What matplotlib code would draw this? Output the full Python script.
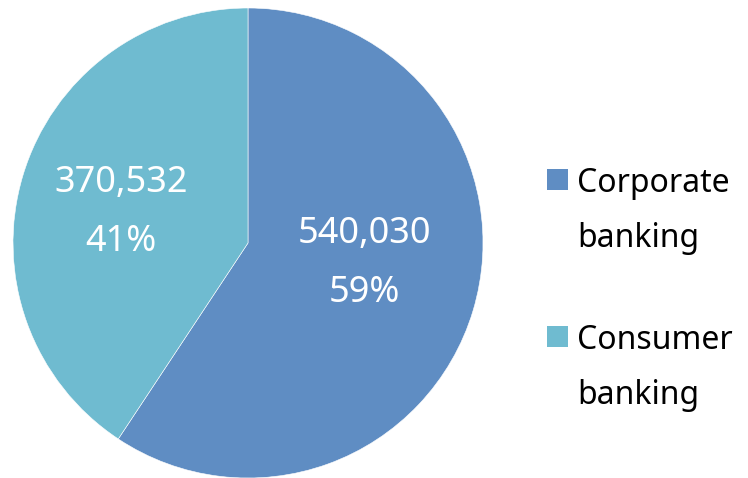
import matplotlib.pyplot as plt
from matplotlib.patches import Rectangle

plt.rcParams['font.family'] = ['Noto Sans', 'DejaVu Sans']

# --- Data ---
segments = ["Corporate\nbanking", "Consumer\nbanking"]
amounts = [540030, 370532]
colors = ["#5f8dc3", "#6fbbd0"]

# label anchor (x, baseline of first line) in pie data units
label_pos = [(0.494, 0.0), (-0.540, 0.217)]
line_gap = 0.25

fig = plt.figure(figsize=(7.48, 4.78), dpi=100)
W, H = 748, 478
cx, cy, r = 248, 243, 235
ax = fig.add_axes([(cx - r) / W, (H - cy - r) / H, 2 * r / W, 2 * r / H])

ax.pie(amounts, colors=colors, startangle=90, counterclock=False, radius=1,
       wedgeprops=dict(edgecolor="white", linewidth=0.4))
ax.set_xlim(-1, 1)
ax.set_ylim(-1, 1)
ax.set_aspect("equal")
ax.axis("off")

total = sum(amounts)
for val, (x, y) in zip(amounts, label_pos):
    pct = round(val / total * 100)
    ax.text(x, y, f"{val:,}", color="white", fontsize=26, ha="center", va="baseline")
    ax.text(x, y - line_gap, f"{pct}%", color="white", fontsize=26, ha="center", va="baseline")

# --- Legend on the right ---
legend_top = [169, 326]
for lab, col, top in zip(segments, colors, legend_top):
    fig.patches.append(Rectangle((547 / W, 1 - (top + 21) / H), 21 / W, 21 / H,
                                 transform=fig.transFigure, facecolor=col,
                                 edgecolor="none"))
    for i, line in enumerate(lab.split("\n")):
        fig.text(577 / W, 1 - (top + 23 + i * 55) / H, line, fontsize=23,
                 color="black", ha="left", va="baseline")

fig.savefig("out.png", dpi=100)
